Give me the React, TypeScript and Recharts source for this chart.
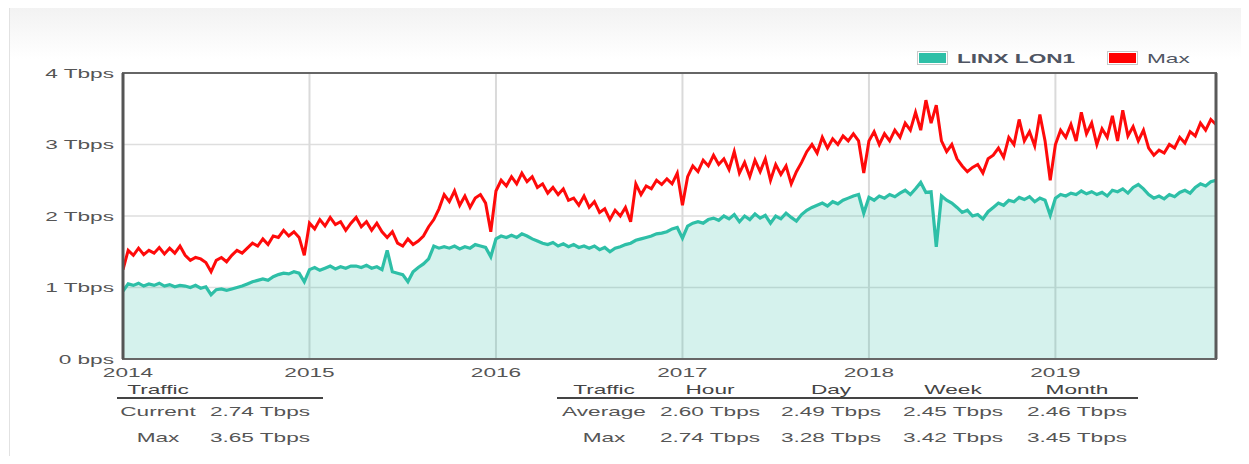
import React from "react";
import {
  ComposedChart,
  Area,
  Line,
  XAxis,
  YAxis,
  CartesianGrid,
  ReferenceArea,
  ReferenceLine,
} from "recharts";

// readings every ~10 days (3 per month), Jan 2014 -> mid Nov 2019, in Tbps
const linx2014 = [0.95, 1.05, 1.03, 1.06, 1.02, 1.05, 1.03, 1.06, 1.02, 1.04, 1.01, 1.03, 1.02, 1.0, 1.03, 0.99, 1.01, 0.9, 0.97, 0.98, 0.96, 0.98, 1.0, 1.02, 1.05, 1.08, 1.1, 1.12, 1.1, 1.15, 1.18, 1.2, 1.19, 1.22, 1.2, 1.08];
const linx2015 = [1.25, 1.28, 1.24, 1.27, 1.3, 1.26, 1.29, 1.27, 1.3, 1.3, 1.28, 1.31, 1.27, 1.29, 1.25, 1.52, 1.22, 1.2, 1.18, 1.08, 1.22, 1.28, 1.33, 1.4, 1.58, 1.55, 1.57, 1.55, 1.58, 1.54, 1.57, 1.55, 1.6, 1.58, 1.56, 1.43];
const linx2016 = [1.68, 1.72, 1.7, 1.73, 1.7, 1.75, 1.72, 1.68, 1.65, 1.62, 1.6, 1.63, 1.58, 1.61, 1.57, 1.6, 1.56, 1.58, 1.55, 1.58, 1.53, 1.56, 1.5, 1.55, 1.57, 1.6, 1.62, 1.66, 1.68, 1.7, 1.72, 1.75, 1.76, 1.78, 1.82, 1.84];
const linx2017 = [1.69, 1.86, 1.9, 1.92, 1.9, 1.95, 1.97, 1.94, 2.0, 1.96, 2.02, 1.92, 2.0, 1.95, 2.03, 1.97, 2.01, 1.9, 2.0, 1.96, 2.04, 1.98, 1.93, 2.02, 2.08, 2.12, 2.15, 2.18, 2.14, 2.2, 2.17, 2.22, 2.25, 2.28, 2.3, 2.04];
const linx2018 = [2.26, 2.22, 2.28, 2.25, 2.3, 2.27, 2.32, 2.36, 2.3, 2.38, 2.47, 2.33, 2.34, 1.57, 2.28, 2.22, 2.18, 2.12, 2.05, 2.08, 2.0, 2.02, 1.96, 2.06, 2.12, 2.18, 2.15, 2.22, 2.2, 2.26, 2.23, 2.27, 2.2, 2.25, 2.22, 2.01];
const linx2019 = [2.25, 2.3, 2.28, 2.32, 2.3, 2.35, 2.31, 2.34, 2.3, 2.33, 2.28, 2.36, 2.34, 2.38, 2.32, 2.4, 2.44, 2.38, 2.3, 2.25, 2.28, 2.24, 2.3, 2.27, 2.33, 2.36, 2.32, 2.4, 2.45, 2.42, 2.48, 2.5];

const max2014 = [1.25, 1.52, 1.45, 1.55, 1.46, 1.52, 1.48, 1.56, 1.47, 1.55, 1.48, 1.58, 1.45, 1.38, 1.42, 1.4, 1.35, 1.22, 1.38, 1.42, 1.36, 1.45, 1.52, 1.48, 1.55, 1.62, 1.58, 1.68, 1.6, 1.72, 1.7, 1.8, 1.72, 1.78, 1.7, 1.45];
const max2015 = [1.9, 1.82, 1.95, 1.86, 1.98, 1.88, 1.92, 1.8, 1.9, 1.98, 1.85, 1.92, 1.8, 1.9, 1.78, 1.7, 1.78, 1.62, 1.58, 1.68, 1.6, 1.65, 1.72, 1.85, 1.95, 2.1, 2.3, 2.2, 2.35, 2.15, 2.28, 2.12, 2.25, 2.3, 2.18, 1.78];
const max2016 = [2.35, 2.5, 2.42, 2.55, 2.45, 2.6, 2.48, 2.55, 2.4, 2.45, 2.32, 2.4, 2.3, 2.38, 2.22, 2.25, 2.15, 2.28, 2.12, 2.2, 2.05, 2.1, 1.95, 2.08, 2.0, 2.12, 1.92, 2.45, 2.3, 2.42, 2.38, 2.5, 2.44, 2.52, 2.45, 2.6];
const max2017 = [2.15, 2.55, 2.7, 2.62, 2.78, 2.7, 2.85, 2.72, 2.8, 2.65, 2.9, 2.6, 2.75, 2.55, 2.78, 2.62, 2.8, 2.5, 2.72, 2.58, 2.7, 2.45, 2.62, 2.75, 2.9, 3.0, 2.88, 3.1, 2.95, 3.08, 3.0, 3.12, 3.05, 3.15, 3.05, 2.6];
const max2018 = [3.05, 3.18, 3.0, 3.15, 3.05, 3.2, 3.1, 3.3, 3.2, 3.45, 3.2, 3.62, 3.3, 3.55, 3.05, 2.9, 3.0, 2.8, 2.7, 2.62, 2.68, 2.72, 2.6, 2.8, 2.85, 2.95, 2.82, 3.1, 3.0, 3.35, 3.05, 3.18, 2.98, 3.42, 3.05, 2.5];
const max2019 = [3.0, 3.2, 3.1, 3.28, 3.05, 3.45, 3.15, 3.3, 3.0, 3.22, 3.1, 3.4, 3.05, 3.48, 3.12, 3.25, 3.05, 3.2, 2.95, 2.85, 2.92, 2.88, 3.0, 2.95, 3.1, 3.02, 3.18, 3.12, 3.3, 3.2, 3.35, 3.28];

const years = [2014, 2015, 2016, 2017, 2018, 2019];
const yTicks = [0, 1, 2, 3, 4];

const summaryRows = [
  { label: "Current", value: "2.74 Tbps" },
  { label: "Max", value: "3.65 Tbps" },
];
const periods = ["Hour", "Day", "Week", "Month"];
const averages = ["2.60 Tbps", "2.49 Tbps", "2.45 Tbps", "2.46 Tbps"];
const maxima = ["2.74 Tbps", "3.28 Tbps", "3.42 Tbps", "3.45 Tbps"];

const linx = [...linx2014, ...linx2015, ...linx2016, ...linx2017, ...linx2018, ...linx2019];
const maxs = [...max2014, ...max2015, ...max2016, ...max2017, ...max2018, ...max2019];
const data = linx.map((v, i) => ({ t: 2014 + i / 36, linx: v, max: maxs[i] }));
const tEnd = data[data.length - 1].t;

const FONT = '"Liberation Sans", Arial, sans-serif';
const SX = 1.74; // the source screenshot is stretched sideways
const TEXT = "#555";
const TEAL = "#2ebfa7";

const fmt = (v: number) => (v === 0 ? "0 bps" : `${v} Tbps`);

const YTick = (props: any) => {
  const { x, y, payload } = props;
  return (
    <g transform={`translate(${x},${y}) scale(${SX},1)`}>
      <text x={0} y={0} dy={4.5} textAnchor="end" fill={TEXT} fontSize={13} fontFamily={FONT}>
        {fmt(payload.value)}
      </text>
    </g>
  );
};

const XTick = (props: any) => {
  const { x, y, payload } = props;
  const shift = payload.value === 2014 ? 5 : 0;
  return (
    <g transform={`translate(${x + shift},${y}) scale(${SX},1)`}>
      <text x={0} y={0} dy={18} textAnchor="middle" fill={TEXT} fontSize={13} fontFamily={FONT}>
        {payload.value}
      </text>
    </g>
  );
};

// centered, stretched text
const Txt = ({ x, y, children, bold, color }: any) => (
  <span
    style={{
      position: "absolute",
      left: x,
      top: y,
      transform: `translate(-50%, -50%) scaleX(${SX})`,
      fontSize: 13,
      whiteSpace: "nowrap",
      color: color || TEXT,
      fontWeight: bold ? "bold" : "normal",
      lineHeight: "15px",
    }}
  >
    {children}
  </span>
);

const LegendItem = ({ x, color, label, bold }: any) => (
  <>
    <div
      style={{
        position: "absolute",
        left: x,
        top: 51,
        width: 27,
        height: 10,
        border: "1px solid #c8c8c8",
        padding: 1,
        background: "#fff",
      }}
    >
      <div style={{ width: "100%", height: "100%", background: color }} />
    </div>
    <span
      style={{
        position: "absolute",
        left: x + 40,
        top: 58,
        transform: `translateY(-50%) scaleX(${SX})`,
        transformOrigin: "left center",
        fontSize: 13,
        fontWeight: bold ? "bold" : "normal",
        color: "#4f5562",
        whiteSpace: "nowrap",
        lineHeight: "15px",
      }}
    >
      {label}
    </span>
  </>
);

const leftCols = [158, 260];
const rightCols = [604, 710, 831, 953, 1077];

export default function App() {
  return (
    <div
      style={{
        position: "relative",
        width: 1249,
        height: 464,
        margin: -8,
        background: "#fff",
        fontFamily: FONT,
        overflow: "hidden",
      }}
    >
      <div
        style={{
          position: "absolute",
          left: 9,
          top: 6,
          width: 1260,
          height: 480,
          border: "1px solid #e2e2e2",
          background: "linear-gradient(#f2f2f2 0px, #ffffff 52px)",
        }}
      />
      <div style={{ position: "absolute", left: 0, top: 0 }}>
        <ComposedChart
          width={1249}
          height={390}
          data={data}
          margin={{ top: 73, right: 33, bottom: 11, left: 0 }}
        >
          <CartesianGrid horizontal={true} vertical={false} stroke="#dedede" strokeWidth={1.5} />
          <CartesianGrid horizontal={false} vertical={true} stroke="#dadada" strokeWidth={2} />
          <XAxis
            dataKey="t"
            type="number"
            domain={[2014, tEnd]}
            ticks={years}
            tick={<XTick />}
            tickLine={false}
            tickSize={0}
            tickMargin={0}
            height={20}
            axisLine={{ stroke: "#666", strokeWidth: 2 }}
            allowDataOverflow
          />
          <YAxis
            domain={[0, 4]}
            ticks={yTicks}
            tick={<YTick />}
            tickLine={false}
            tickSize={0}
            tickMargin={9}
            width={123}
            axisLine={{ stroke: "#555", strokeWidth: 3 }}
          />
          <Area
            dataKey="linx"
            type="linear"
            stroke={TEAL}
            strokeWidth={3.2}
            fill={TEAL}
            fillOpacity={0.2}
            dot={false}
            activeDot={false}
            isAnimationActive={false}
          />
          <Line
            dataKey="max"
            type="linear"
            stroke="#ff0a0a"
            strokeWidth={3}
            dot={false}
            activeDot={false}
            isAnimationActive={false}
          />
          <ReferenceArea x1={2014} x2={tEnd} y1={0} y2={4} fill="none" stroke="#666" strokeWidth={2} />
          <ReferenceLine x={tEnd} stroke="#5a5a5a" strokeWidth={3} />
        </ComposedChart>
      </div>

      <LegendItem x={917} color={TEAL} label="LINX LON1" bold />
      <LegendItem x={1107} color="#ff0000" label="Max" />

      {/* left summary table */}
      <Txt x={leftCols[0]} y={389} color="#444">Traffic</Txt>
      <div style={{ position: "absolute", left: 117, top: 397, width: 206, height: 2, background: "#444" }} />
      {summaryRows.map((r, i) => (
        <React.Fragment key={r.label}>
          <Txt x={leftCols[0]} y={411 + i * 26}>{r.label}</Txt>
          <Txt x={leftCols[1]} y={411 + i * 26}>{r.value}</Txt>
        </React.Fragment>
      ))}

      {/* right period table */}
      <Txt x={rightCols[0]} y={389} color="#444">Traffic</Txt>
      {periods.map((p, i) => (
        <Txt key={p} x={rightCols[i + 1]} y={389} color="#444">{p}</Txt>
      ))}
      <div style={{ position: "absolute", left: 557, top: 397, width: 581, height: 2, background: "#444" }} />
      <Txt x={rightCols[0]} y={411}>Average</Txt>
      {averages.map((v, i) => (
        <Txt key={"a" + i} x={rightCols[i + 1]} y={411}>{v}</Txt>
      ))}
      <Txt x={rightCols[0]} y={437}>Max</Txt>
      {maxima.map((v, i) => (
        <Txt key={"m" + i} x={rightCols[i + 1]} y={437}>{v}</Txt>
      ))}
    </div>
  );
}
